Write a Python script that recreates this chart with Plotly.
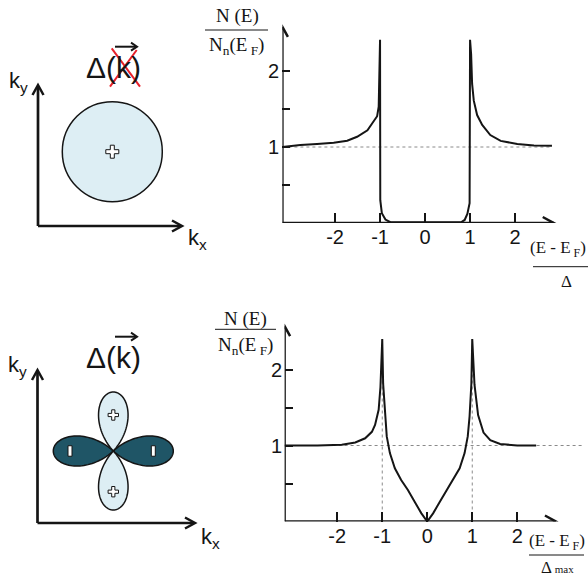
import math
import plotly.graph_objects as go

W, H = 588, 581

# ---------------- data ----------------
# s-wave (isotropic gap): N(E)/Nn(EF) against (E-EF)/Delta
s_energy = [-3.17, -2.77, -2.40, -2.03, -1.73, -1.51, -1.28, -1.14, -1.065, -1.03, -1.016, -1.0,
            -0.995, -0.96, -0.88, -0.77, 0.0, 0.80, 0.88, 0.94, 0.99,
            1.0, 1.024, 1.046, 1.083, 1.157, 1.27, 1.45, 1.68, 2.05, 2.42, 2.82]
s_dos = [1.0, 1.026, 1.039, 1.056, 1.083, 1.135, 1.22, 1.33, 1.405, 1.53, 2.05, 2.41,
         0.30, 0.13, 0.046, 0.01, 0.01, 0.01, 0.04, 0.12, 0.26,
         2.41, 2.22, 1.83, 1.61, 1.42, 1.29, 1.157, 1.08, 1.04, 1.02, 1.017]

# d-wave (nodal gap): N(E)/Nn(EF) against (E-EF)/Delta_max
d_energy = [-3.17, -2.44, -1.90, -1.60, -1.38, -1.23, -1.16, -1.08, -1.04, -1.0,
            -0.98, -0.94, -0.90, -0.83, -0.72, -0.58, -0.43, -0.28, -0.13, 0.0,
            0.13, 0.28, 0.43, 0.58, 0.72, 0.83, 0.90, 0.94, 0.98, 1.0,
            1.05, 1.13, 1.25, 1.40, 1.62, 2.0, 2.42]
d_dos = [1.0, 1.0, 1.01, 1.04, 1.095, 1.18, 1.27, 1.47, 1.77, 2.40,
         1.81, 1.38, 1.12, 0.90, 0.70, 0.546, 0.414, 0.26, 0.107, 0.0,
         0.107, 0.26, 0.41, 0.55, 0.70, 0.90, 1.12, 1.38, 1.81, 2.40,
         1.80, 1.40, 1.17, 1.07, 1.02, 1.0, 1.0]

x_tickvals = [-2, -1, 0, 1, 2]
x_ticktext = ["-2", "-1", "0", "1", "2"]
y_tickvals = [0.5, 1, 1.5, 2]
y_ticktext = ["", "1", "", "2"]

normal_level = 1.0
d_peaks = [-1.0, 1.0]
d_peak_height = 2.40

# ---------------- geometry helpers ----------------
def fx(px):
    return px / W


def fy(py):
    return 1 - py / H


UNIT_X = 45.0      # pixels per unit of energy
UNIT_Y = 76.0      # pixels per unit of DOS
X_START = -3.17    # where the energy axis starts (the DOS axis sits here)
X_TIP = 2.86       # end of the energy axis arrow

panels = [
    dict(x="x", y="y", xa="xaxis", ya="yaxis", axis_px=282.4, base_px=223.0, top_px=0.0,
         y_tip=2.58, energy=s_energy, dos=s_dos, ref_end=2.82),
    dict(x="x2", y="y2", xa="xaxis2", ya="yaxis2", axis_px=284.6, base_px=521.5, top_px=290.0,
         y_tip=2.57, energy=d_energy, dos=d_dos, ref_end=3.43),
]

INK = "#151515"
fig = go.Figure()
shapes = []
annotations = []

serif = dict(family="Liberation Serif, Times New Roman, serif", size=19, color=INK)
serif_small = dict(family="Liberation Serif, Times New Roman, serif", size=17, color=INK)
sans_ticks = dict(family="Liberation Sans, Arial, sans-serif", size=20, color=INK)

for i, p in enumerate(panels):
    x_hi = X_START + (W - p["axis_px"]) / UNIT_X
    y_hi = (p["base_px"] - p["top_px"]) / UNIT_Y
    xaxis = dict(domain=[fx(p["axis_px"]), 1.0], range=[X_START, x_hi], anchor=p["y"],
                 showgrid=False, zeroline=False, showline=False,
                 ticks="inside", ticklen=10, tickwidth=2, tickcolor=INK,
                 tickvals=x_tickvals, ticktext=x_ticktext, tickfont=sans_ticks)
    yaxis = dict(domain=[fy(p["base_px"]), fy(p["top_px"])], range=[0, y_hi], anchor=p["x"],
                 showgrid=False, zeroline=False, showline=False,
                 ticks="inside", ticklen=8, tickwidth=2, tickcolor=INK,
                 tickvals=y_tickvals, showticklabels=False)
    fig.update_layout({p["xa"]: xaxis, p["ya"]: yaxis})

    # y tick labels sit right against the DOS axis
    for v, t in zip(y_tickvals, y_ticktext):
        if t:
            annotations.append(dict(text=t, x=X_START, y=v, xref=p["x"], yref=p["y"],
                                    showarrow=False, xanchor="right", yanchor="middle",
                                    xshift=-1, font=sans_ticks))

    # normal-state reference level
    fig.add_trace(go.Scatter(x=[X_START, p["ref_end"]], y=[normal_level, normal_level],
                             mode="lines", line=dict(color="#8a8a8a", width=1, dash="dot"),
                             xaxis=p["x"], yaxis=p["y"], showlegend=False, hoverinfo="skip"))
    if i == 1:
        for e in d_peaks:
            fig.add_trace(go.Scatter(x=[e, e], y=[0, d_peak_height], mode="lines",
                                     line=dict(color="#8a8a8a", width=1, dash="dot"),
                                     xaxis=p["x"], yaxis=p["y"], showlegend=False,
                                     hoverinfo="skip"))
    fig.add_trace(go.Scatter(x=p["energy"], y=p["dos"], mode="lines",
                             line=dict(color=INK, width=2),
                             xaxis=p["x"], yaxis=p["y"], showlegend=False, hoverinfo="skip"))

    # axis lines with open arrow heads
    shapes.append(dict(type="line", xref=p["x"], yref=p["y"], x0=X_START, x1=X_TIP, y0=0, y1=0,
                       line=dict(color=INK, width=2.5)))
    shapes.append(dict(type="line", xref=p["x"], yref=p["y"], x0=X_START, x1=X_START, y0=0,
                       y1=p["y_tip"], line=dict(color=INK, width=2.5)))
    shapes.append(dict(type="path", xref=p["x"], yref=p["y"], xsizemode="pixel",
                       ysizemode="pixel", xanchor=X_TIP, yanchor=0,
                       path="M -11,6 L 0,0 L -11,-6", line=dict(color=INK, width=2.5)))
    shapes.append(dict(type="path", xref=p["x"], yref=p["y"], xsizemode="pixel",
                       ysizemode="pixel", xanchor=X_START, yanchor=p["y_tip"],
                       path="M -5.5,-10 L 0,0 L 5.5,-10", line=dict(color=INK, width=2.5)))


def add_text(text, px, py, font, xanchor="center", yanchor="middle"):
    annotations.append(dict(text=text, x=fx(px), y=fy(py), xref="paper", yref="paper",
                            showarrow=False, xanchor=xanchor, yanchor=yanchor, font=font))


def add_line(x0, y0, x1, y1, width, color=INK):
    shapes.append(dict(type="line", xref="paper", yref="paper", x0=fx(x0), y0=fy(y0),
                       x1=fx(x1), y1=fy(y1), line=dict(color=color, width=width)))


def poly_path(points, close=True):
    s = "M " + " L ".join(f"{fx(a):.5f},{fy(b):.5f}" for a, b in points)
    return s + (" Z" if close else "")


def add_poly(points, fill=None, width=1.5, color=INK, close=True):
    d = dict(type="path", xref="paper", yref="paper", path=poly_path(points, close),
             line=dict(color=color, width=width))
    if fill:
        d["fillcolor"] = fill
    shapes.append(d)


def arrow_head(tx, ty, direction, back=10, half=5.5, width=2.5):
    if direction == "right":
        pts = [(tx - back, ty - half), (tx, ty), (tx - back, ty + half)]
    else:
        pts = [(tx - half, ty + back), (tx, ty), (tx + half, ty + back)]
    add_poly(pts, width=width, close=False)


def plus_sign(cx, cy, a, t):
    pts = [(-t, -a), (t, -a), (t, -t), (a, -t), (a, t), (t, t), (t, a), (-t, a),
           (-t, t), (-a, t), (-a, -t), (-t, -t)]
    add_poly([(cx + u, cy + v) for u, v in pts], fill="white", width=1)


def minus_bar(cx, cy, w=4.0, h=10.5):
    add_poly([(cx - w / 2, cy - h / 2), (cx + w / 2, cy - h / 2),
              (cx + w / 2, cy + h / 2), (cx - w / 2, cy + h / 2)], fill="white", width=1)


def petal(cx, cy, angle, length, squeeze, fill, n=80):
    pts = []
    for k in range(n + 1):
        phi = -math.pi / 4 + (math.pi / 2) * k / n
        r = length * math.cos(2 * phi)
        u, v = r * math.cos(phi), r * math.sin(phi) * squeeze
        pts.append((cx + u * math.cos(angle) - v * math.sin(angle),
                    cy + u * math.sin(angle) + v * math.cos(angle)))
    add_poly(pts, fill=fill, width=1.5)


LIGHT = "#ddeef4"
DARK = "#1f5566"
sans = "Liberation Sans, Arial, sans-serif"

# ---- k-space sketch: s-wave ----
add_line(38, 226, 181, 226, 2.7)
add_line(38, 226, 38, 86, 2.7)
arrow_head(182, 226, "right")
arrow_head(38, 85, "up")
shapes.append(dict(type="circle", xref="paper", yref="paper", x0=fx(62.3), x1=fx(162.3),
                   y0=fy(201.7), y1=fy(101.7), fillcolor=LIGHT, line=dict(color=INK, width=1.5)))
plus_sign(112.3, 151.7, 6.5, 2.0)
add_text("k<sub>y</sub>", 7, 82, dict(family=sans, size=22, color=INK), xanchor="left")
add_text("k<sub>x</sub>", 186, 239, dict(family=sans, size=22, color=INK), xanchor="left")
add_text("Δ(k)", 113, 67.5, dict(family=sans, size=30, color=INK))
add_line(115, 46.7, 136, 46.7, 2)
arrow_head(137, 46.7, "right", back=6, half=4, width=2)
add_line(111.7, 48.3, 140, 86.7, 2, color="#e8202a")
add_line(136.7, 50, 110, 86.7, 2, color="#e8202a")

# ---- k-space sketch: d-wave ----
add_line(37.5, 523, 194, 523, 2.7)
add_line(37.5, 523, 37.5, 371, 2.7)
arrow_head(195, 523, "right")
arrow_head(37.5, 370, "up")
lobe_c = (113.3, 451.0)
petal(lobe_c[0], lobe_c[1], 0.0, 60, 0.92, DARK)
petal(lobe_c[0], lobe_c[1], math.pi, 60, 0.92, DARK)
petal(lobe_c[0], lobe_c[1], -math.pi / 2, 59, 0.92, LIGHT)
petal(lobe_c[0], lobe_c[1], math.pi / 2, 59, 0.92, LIGHT)
plus_sign(113.3, 415, 5.2, 1.6)
plus_sign(113.3, 491.7, 5.2, 1.6)
minus_bar(70, 451)
minus_bar(153.3, 451)
add_text("k<sub>y</sub>", 6, 366, dict(family=sans, size=22, color=INK), xanchor="left")
add_text("k<sub>x</sub>", 199, 538, dict(family=sans, size=22, color=INK), xanchor="left")
add_text("Δ(k)", 113, 357.5, dict(family=sans, size=30, color=INK))
add_line(115, 336.7, 136, 336.7, 2)
arrow_head(137, 336.7, "right", back=6, half=4, width=2)

# ---- DOS axis titles (fractions) ----
add_text("N (E)", 237.5, 16, serif)
add_line(205, 30, 268, 30, 1)
add_text("N<sub>n</sub>(E<sub> F</sub>)", 236.5, 46, serif)
add_text("(E - E<sub> F</sub>)", 558, 249, serif_small)
add_line(533, 266.7, 588, 266.7, 1)
add_text("Δ", 566, 282, serif_small)

add_text("N (E)", 245, 318.5, serif)
add_line(215, 329.3, 276, 329.3, 1)
add_text("N<sub>n</sub>(E<sub> F</sub>)", 245.5, 346, serif)
add_text("(E - E<sub> F</sub>)", 557, 542, serif_small)
add_line(529, 555, 584, 555, 1)
add_text("Δ<span style='font-size:11px'> max</span>", 557, 567, serif_small)

fig.update_layout(width=W, height=H, margin=dict(l=0, r=0, t=0, b=0),
                  paper_bgcolor="white", plot_bgcolor="white",
                  shapes=shapes, annotations=annotations, showlegend=False)

fig.write_html("out.html")
